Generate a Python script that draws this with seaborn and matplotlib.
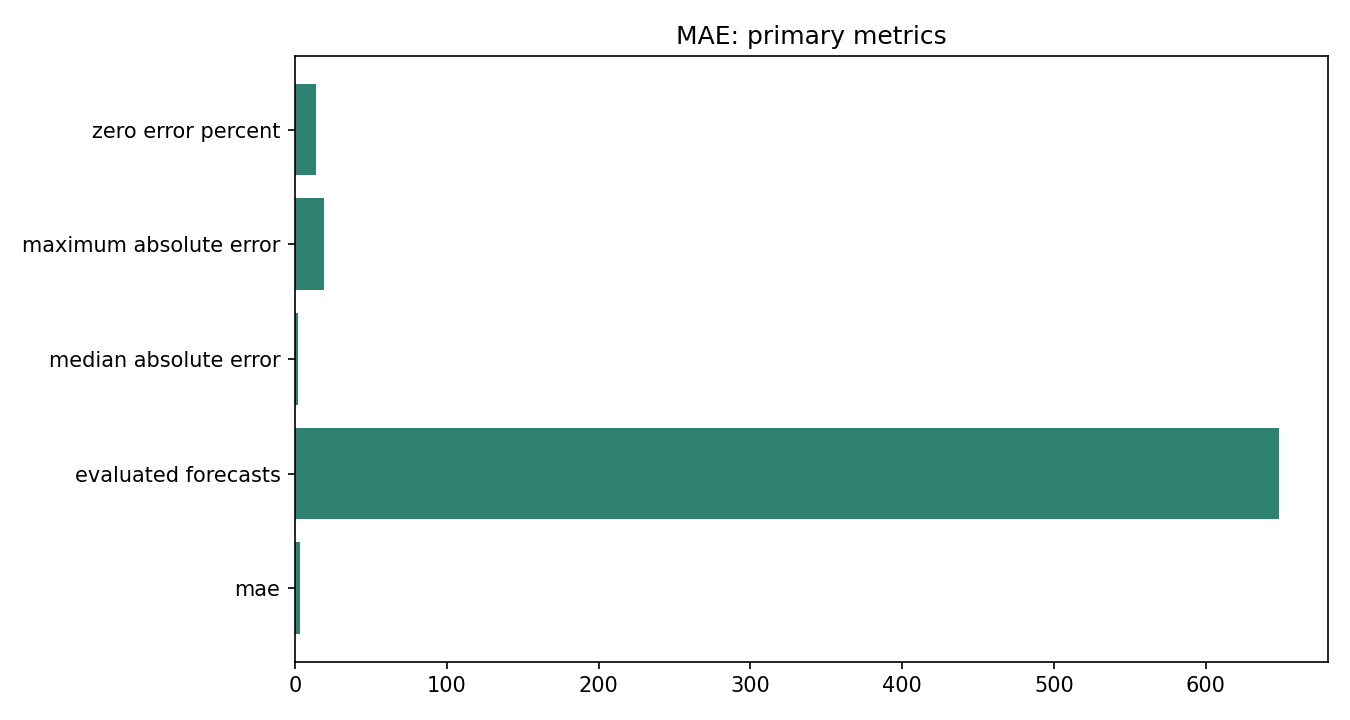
import matplotlib
matplotlib.use("Agg")
import matplotlib.pyplot as plt
import seaborn as sns
import pandas as pd

# metric names, top to bottom as shown
metrics = ["zero error percent", "maximum absolute error", "median absolute error",
           "evaluated forecasts", "mae"]
values = [13.8, 19.1, 2.0, 648.0, 3.3]

df = pd.DataFrame({"metric": metrics, "value": values})

fig, ax = plt.subplots(figsize=(9, 4.8), dpi=150)
sns.barplot(data=df, x="value", y="metric", order=metrics, color="#2e8171",
            saturation=1, width=0.8, ax=ax)
ax.set_title("MAE: primary metrics")
ax.set_xlabel("")
ax.set_ylabel("")
ax.set_xlim(0, max(values) * 1.05)
# same padding as a plain barh
n = len(metrics)
ax.set_ylim(n - 1 + 0.4 + 0.05 * (n - 0.2), -0.4 - 0.05 * (n - 0.2))
fig.subplots_adjust(left=0.2185, right=0.9837, top=0.922, bottom=0.081)
fig.savefig("out.png")
